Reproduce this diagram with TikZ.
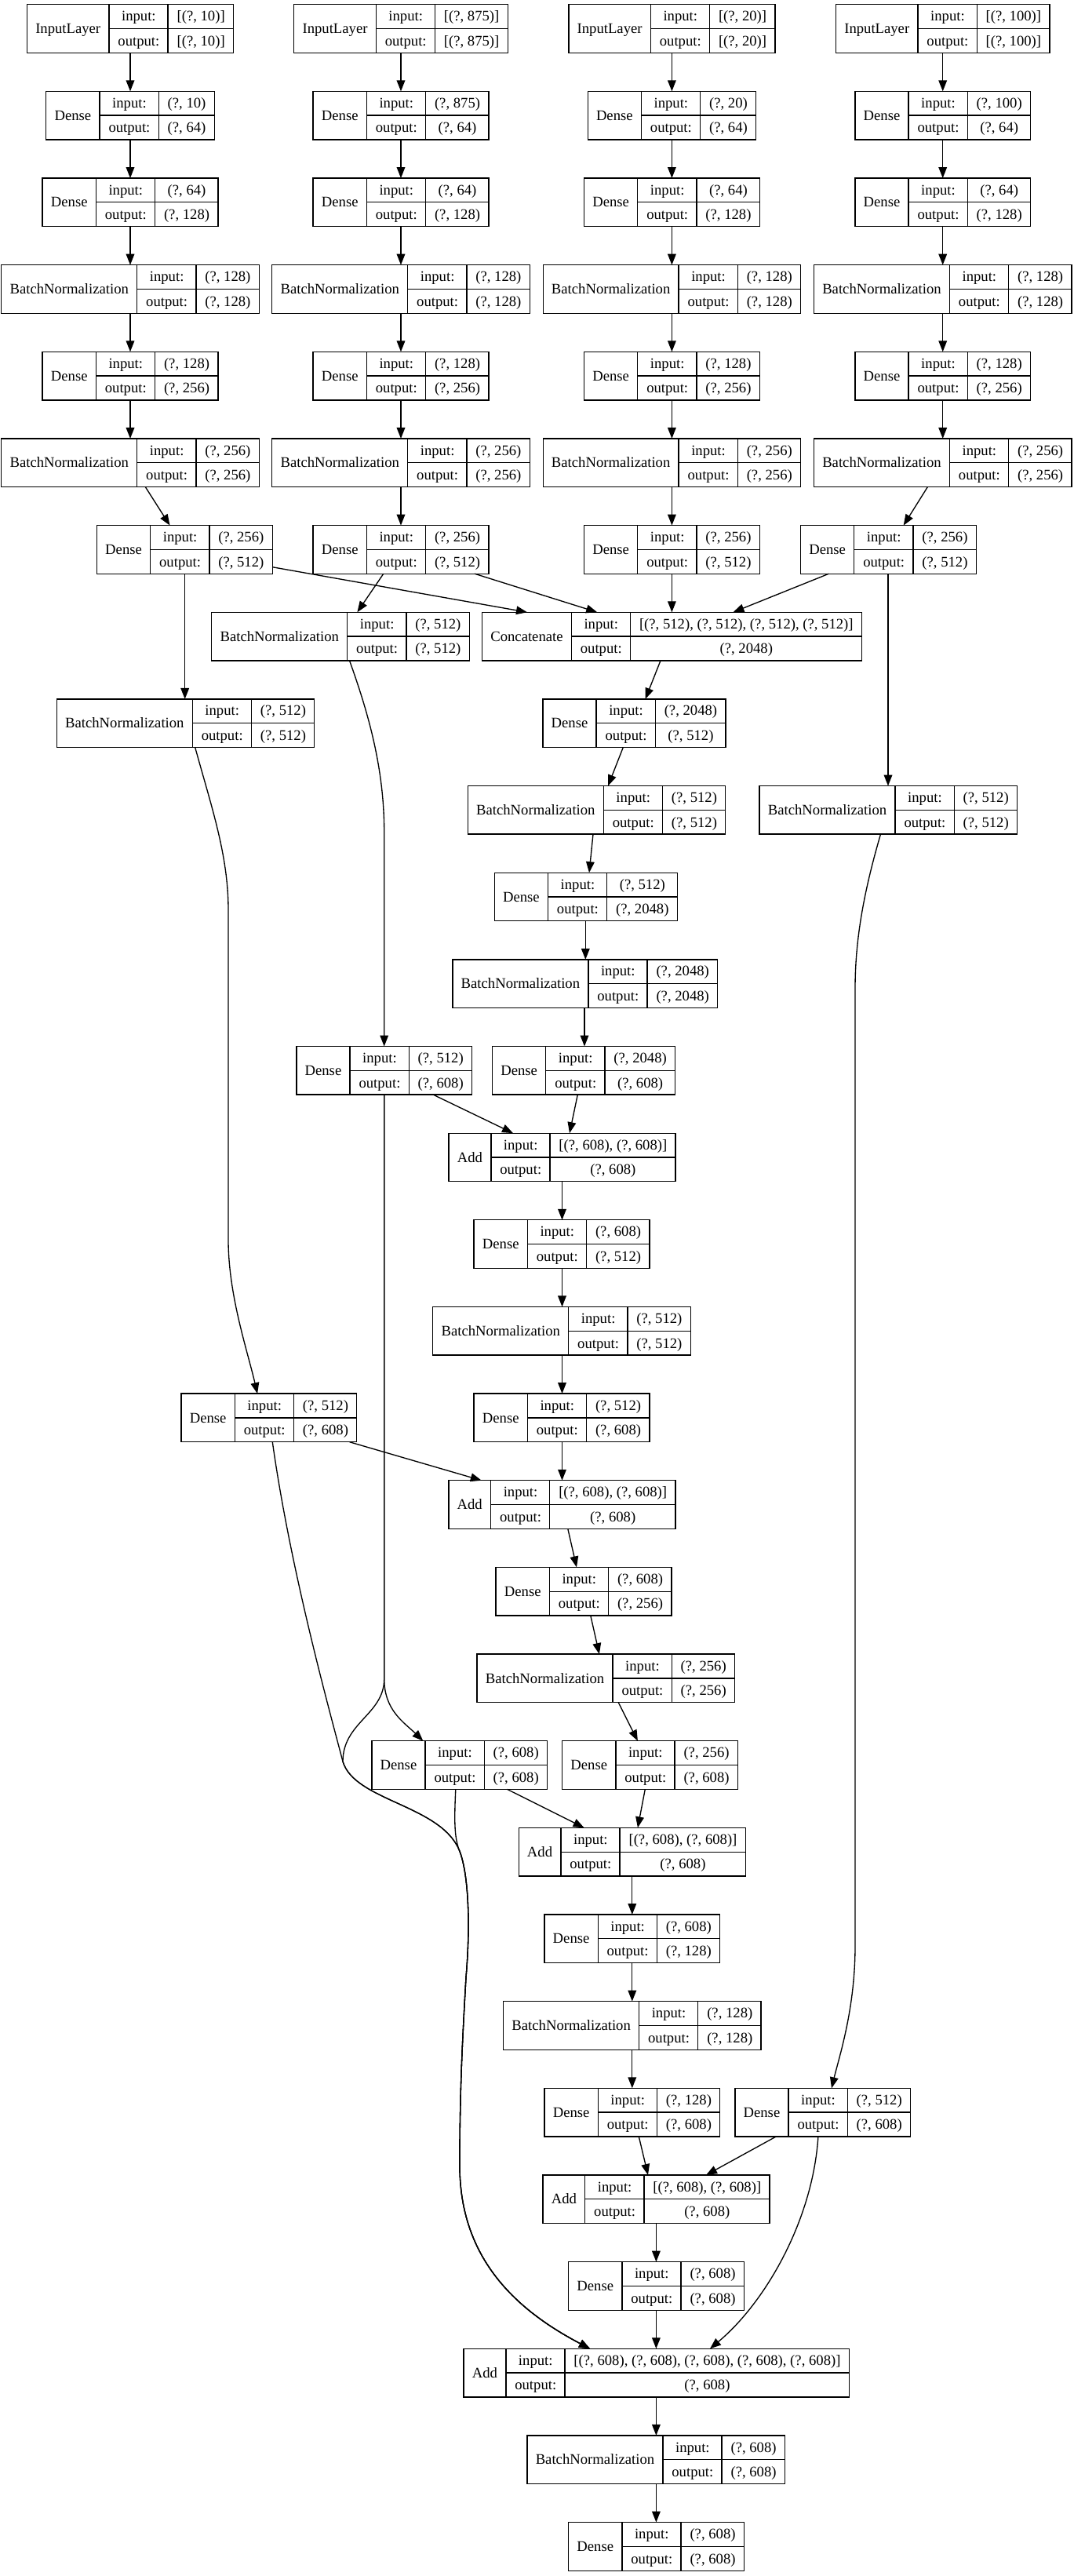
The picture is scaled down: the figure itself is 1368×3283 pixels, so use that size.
\documentclass[tikz,border=0pt]{standalone}
\usepackage{fontspec}
\setmainfont{Liberation Serif}
\usetikzlibrary{arrows.meta}
\setlength\arrayrulewidth{1pt}
\newcommand\lyrfont{\fontsize{14pt}{16.8pt}\selectfont}
\newcommand\st{\rule[-6.8pt]{0pt}{22.6pt}}
\newcommand\rec[3]{\begin{tabular}{@{\hspace{8.1pt}}c@{\hspace{8.1pt}}|@{}c@{}}\raisebox{-1pt}{#1}&%
\begin{tabular}{@{\hspace{8.1pt}}c@{\hspace{8.1pt}}|@{\hspace{8.1pt}}c@{\hspace{8.1pt}}}\st input:&#2\\\hline\st output:&#3\end{tabular}\end{tabular}}
\newcommand\lyr[6]{\node[lbox] (#1) at (#2,{36.5+110.65*#3}) {\rec{#4}{#5}{#6}};}
\begin{document}
\begin{tikzpicture}[x=0.75pt, y=-0.75pt, line width=1pt,
  lbox/.style={draw, line width=1pt, inner sep=0pt, outer sep=0pt, font=\lyrfont},
  arr/.style={draw, line width=1pt, -{Triangle[length=10.5pt,width=8pt]}}]
\useasboundingbox (0,0) rectangle (1368,3283);
\fill[white] (0,0) rectangle (1368,3283);
% row 0
\lyr{A0}{166}{0}{InputLayer}{[(?, 10)]}{[(?, 10)]}
\lyr{B0}{511}{0}{InputLayer}{[(?, 875)]}{[(?, 875)]}
\lyr{C0}{856.4}{0}{InputLayer}{[(?, 20)]}{[(?, 20)]}
\lyr{D0}{1201.7}{0}{InputLayer}{[(?, 100)]}{[(?, 100)]}
% row 1
\lyr{A1}{166}{1}{Dense}{(?, 10)}{(?, 64)}
\lyr{B1}{511}{1}{Dense}{(?, 875)}{(?, 64)}
\lyr{C1}{856.4}{1}{Dense}{(?, 20)}{(?, 64)}
\lyr{D1}{1201.7}{1}{Dense}{(?, 100)}{(?, 64)}
% row 2
\lyr{A2}{166}{2}{Dense}{(?, 64)}{(?, 128)}
\lyr{B2}{511}{2}{Dense}{(?, 64)}{(?, 128)}
\lyr{C2}{856.4}{2}{Dense}{(?, 64)}{(?, 128)}
\lyr{D2}{1201.7}{2}{Dense}{(?, 64)}{(?, 128)}
% row 3
\lyr{A3}{166}{3}{BatchNormalization}{(?, 128)}{(?, 128)}
\lyr{B3}{511}{3}{BatchNormalization}{(?, 128)}{(?, 128)}
\lyr{C3}{856.4}{3}{BatchNormalization}{(?, 128)}{(?, 128)}
\lyr{D3}{1201.7}{3}{BatchNormalization}{(?, 128)}{(?, 128)}
% row 4
\lyr{A4}{166}{4}{Dense}{(?, 128)}{(?, 256)}
\lyr{B4}{511}{4}{Dense}{(?, 128)}{(?, 256)}
\lyr{C4}{856.4}{4}{Dense}{(?, 128)}{(?, 256)}
\lyr{D4}{1201.7}{4}{Dense}{(?, 128)}{(?, 256)}
% row 5
\lyr{A5}{166}{5}{BatchNormalization}{(?, 256)}{(?, 256)}
\lyr{B5}{511}{5}{BatchNormalization}{(?, 256)}{(?, 256)}
\lyr{C5}{856.4}{5}{BatchNormalization}{(?, 256)}{(?, 256)}
\lyr{D5}{1201.7}{5}{BatchNormalization}{(?, 256)}{(?, 256)}
% row 6
\lyr{A6}{235.3}{6}{Dense}{(?, 256)}{(?, 512)}
\lyr{B6}{511}{6}{Dense}{(?, 256)}{(?, 512)}
\lyr{C6}{856.4}{6}{Dense}{(?, 256)}{(?, 512)}
\lyr{D6}{1132.4}{6}{Dense}{(?, 256)}{(?, 512)}
% row 7
\lyr{B7}{434}{7}{BatchNormalization}{(?, 512)}{(?, 512)}
\lyr{Cat}{856.5}{7}{Concatenate}{[(?, 512), (?, 512), (?, 512), (?, 512)]}{(?, 2048)}
% row 8
\lyr{A7}{236.6}{8}{BatchNormalization}{(?, 512)}{(?, 512)}
\lyr{M1}{808.4}{8}{Dense}{(?, 2048)}{(?, 512)}
% row 9
\lyr{M2}{760.6}{9}{BatchNormalization}{(?, 512)}{(?, 512)}
\lyr{D7}{1132.3}{9}{BatchNormalization}{(?, 512)}{(?, 512)}
% row 10-11
\lyr{M3}{746.8}{10}{Dense}{(?, 512)}{(?, 2048)}
\lyr{M4}{745.8}{11}{BatchNormalization}{(?, 2048)}{(?, 2048)}
% row 12
\lyr{B8}{489.7}{12}{Dense}{(?, 512)}{(?, 608)}
\lyr{M5}{744.1}{12}{Dense}{(?, 2048)}{(?, 608)}
% row 13-15
\lyr{AD1}{716.6}{13}{Add}{[(?, 608), (?, 608)]}{(?, 608)}
\lyr{M6}{716}{14}{Dense}{(?, 608)}{(?, 512)}
\lyr{M7}{716}{15}{BatchNormalization}{(?, 512)}{(?, 512)}
% row 16
\lyr{A8}{342.9}{16}{Dense}{(?, 512)}{(?, 608)}
\lyr{M8}{716}{16}{Dense}{(?, 512)}{(?, 608)}
% row 17-19
\lyr{AD2}{716.4}{17}{Add}{[(?, 608), (?, 608)]}{(?, 608)}
\lyr{M9}{744}{18}{Dense}{(?, 608)}{(?, 256)}
\lyr{M10}{772.3}{19}{BatchNormalization}{(?, 256)}{(?, 256)}
% row 20
\lyr{X}{585.7}{20}{Dense}{(?, 608)}{(?, 608)}
\lyr{M11}{828.5}{20}{Dense}{(?, 256)}{(?, 608)}
% row 21-23
\lyr{AD3}{805.7}{21}{Add}{[(?, 608), (?, 608)]}{(?, 608)}
\lyr{M12}{805.8}{22}{Dense}{(?, 608)}{(?, 128)}
\lyr{M13}{805.9}{23}{BatchNormalization}{(?, 128)}{(?, 128)}
% row 24
\lyr{M14}{805.9}{24}{Dense}{(?, 128)}{(?, 608)}
\lyr{D8}{1048.7}{24}{Dense}{(?, 512)}{(?, 608)}
% row 25-29
\lyr{AD4}{836.5}{25}{Add}{[(?, 608), (?, 608)]}{(?, 608)}
\lyr{M15}{836.5}{26}{Dense}{(?, 608)}{(?, 608)}
\lyr{AD5}{836.7}{27}{Add}{[(?, 608), (?, 608), (?, 608), (?, 608), (?, 608)]}{(?, 608)}
\lyr{M16}{836.2}{28}{BatchNormalization}{(?, 608)}{(?, 608)}
\lyr{M17}{836.5}{29}{Dense}{(?, 608)}{(?, 608)}

% ---- edges: input columns
\foreach \c/\x in {A/166,B/511,C/856.4,D/1201.7}{
  \foreach \i/\j in {0/1,1/2,2/3,3/4,4/5}{
    \draw[arr] (\c\i.south -| \x,0) -- (\c\j.north -| \x,0);
  }
}
\draw[arr] (B5.south -| 511,0) -- (B6.north -| 511,0);
\draw[arr] (C5.south -| 856.4,0) -- (C6.north -| 856.4,0);
\draw[arr] (A5.south -| 185.3,0) -- (A6.north -| 216.5,0);
\draw[arr] (D5.south -| 1182.4,0) -- (D6.north -| 1151.7,0);
% row 6 -> 7/8/9
\draw[arr] (A6.south -| 235.7,0) -- (A7.north -| 235.7,0);
\draw[arr] (A6.east |- 0,722.7) -- (Cat.north -| 672,0);
\draw[arr] (B6.south -| 605,0) -- (Cat.north -| 761.2,0);
\draw[arr] (B6.south -| 488.8,0) -- (B7.north -| 455.4,0);
\draw[arr] (C6.south -| 856.4,0) -- (Cat.north -| 856.4,0);
\draw[arr] (D6.south -| 1056.5,0) -- (Cat.north -| 934.5,0);
\draw[arr] (D6.south -| 1132,0) -- (D7.north -| 1132,0);
% main trunk
\draw[arr] (Cat.south -| 842,0) -- (M1.north -| 822.6,0);
\draw[arr] (M1.south -| 794.3,0) -- (M2.north -| 775.1,0);
\draw[arr] (M2.south -| 756,0) -- (M3.north -| 751,0);
\draw[arr] (M3.south -| 746.3,0) -- (M4.north -| 746.3,0);
\draw[arr] (M4.south -| 745,0) -- (M5.north -| 745,0);
\draw[arr] (M5.south -| 736.3,0) -- (AD1.north -| 726,0);
\draw[arr] (B8.south -| 552.2,0) -- (AD1.north -| 654,0);
\draw[arr] (AD1.south -| 716.5,0) -- (M6.north -| 716.5,0);
\draw[arr] (M6.south -| 716.5,0) -- (M7.north -| 716.5,0);
\draw[arr] (M7.south -| 716.5,0) -- (M8.north -| 716.5,0);
\draw[arr] (M8.south -| 716.5,0) -- (AD2.north -| 716.5,0);
\draw[arr] (A8.south -| 445.5,0) -- (AD2.north -| 613.8,0);
\draw[arr] (AD2.south -| 723.8,0) -- (M9.north -| 735,0);
\draw[arr] (M9.south -| 752.8,0) -- (M10.north -| 763.9,0);
\draw[arr] (M10.south -| 788.2,0) -- (M11.north -| 812.9,0);
\draw[arr] (X.south -| 646.4,0) -- (AD3.north -| 744.6,0);
\draw[arr] (M11.south -| 822.3,0) -- (AD3.north -| 812.9,0);
\draw[arr] (AD3.south -| 805.8,0) -- (M12.north -| 805.8,0);
\draw[arr] (M12.south -| 805.8,0) -- (M13.north -| 805.8,0);
\draw[arr] (M13.south -| 805.8,0) -- (M14.north -| 805.8,0);
\draw[arr] (M14.south -| 814.3,0) -- (AD4.north -| 826,0);
\draw[arr] (D8.south -| 989.3,0) -- (AD4.north -| 900,0);
\draw[arr] (AD4.south -| 836.4,0) -- (M15.north -| 836.4,0);
\draw[arr] (M15.south -| 836.4,0) -- (AD5.north -| 836.4,0);
\draw[arr] (AD5.south -| 836.4,0) -- (M16.north -| 836.4,0);
\draw[arr] (M16.south -| 836.4,0) -- (M17.north -| 836.4,0);
% long branch edges
\draw[arr] (B7.south -| 445.5,0) .. controls (470,910) and (489.7,980) .. (489.7,1060) -- (B8.north -| 489.7,0);
\draw[arr] (A7.south -| 248.7,0) .. controls (270,1030) and (291,1090) .. (291,1160) -- (291,1580)
   .. controls (291,1650) and (315,1720) .. (A8.north -| 328.1,0);
\draw[arr] (D7.south -| 1122.5,0) .. controls (1100,1140) and (1090,1200) .. (1090,1260) -- (1090,2480)
   .. controls (1090,2560) and (1070,2620) .. (D8.north -| 1060,0);
\draw[arr] (B8.south -| 489.7,0) -- (489.7,2140) .. controls (490,2180) and (515,2195) .. (X.north -| 539.3,0);
\draw[arr] (D8.south -| 1042.9,0) .. controls (1036,2830) and (975,2935) .. (AD5.north -| 905,0);
% edges sharing the left route into the last Add
\draw[arr] (A8.south -| 347.3,0) .. controls (370,2000) and (420,2180) .. (437,2245)
   .. controls (452,2295) and (560,2300) .. (585,2357)
   .. controls (597,2385) and (600,2450) .. (594,2520)
   .. controls (590,2590) and (586,2660) .. (586,2760)
   .. controls (586,2880) and (660,2945) .. (AD5.north -| 752,0);
\draw[arr] (B8.south -| 489.7,0) -- (489.7,2140) .. controls (489.5,2185) and (437,2195) .. (437,2245)
   .. controls (452,2295) and (560,2300) .. (585,2357)
   .. controls (597,2385) and (600,2450) .. (594,2520)
   .. controls (590,2590) and (586,2660) .. (586,2760)
   .. controls (586,2880) and (660,2945) .. (AD5.north -| 752,0);
\draw[arr] (X.south -| 580.8,0) .. controls (579,2320) and (579,2340) .. (585,2357)
   .. controls (597,2385) and (600,2450) .. (594,2520)
   .. controls (590,2590) and (586,2660) .. (586,2760)
   .. controls (586,2880) and (660,2945) .. (AD5.north -| 752,0);
\end{tikzpicture}
\end{document}
